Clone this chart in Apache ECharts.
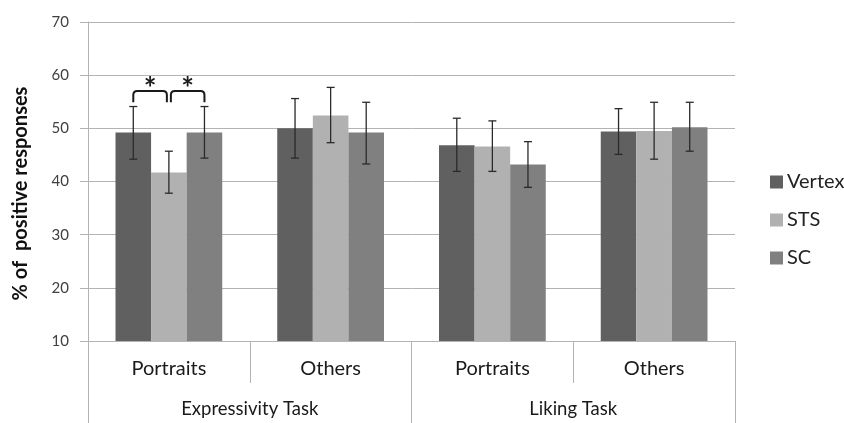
<!DOCTYPE html>
<html>
<head>
<meta charset="utf-8">
<script src="https://cdn.jsdelivr.net/npm/echarts@6/dist/echarts.min.js"></script>
<style>
  html, body { margin: 0; padding: 0; background: #fff; }
  #chart { width: 844px; height: 423px; }
</style>
</head>
<body>
<div id="chart"></div>
<script>
// data
const conditions = ["Portraits", "Others", "Portraits", "Others"];
const tasks = ["Expressivity Task", "Liking Task"];
const seriesNames = ["Vertex", "STS", "SC"];

const vertexMean = [49.2, 50.0, 46.8, 49.4];
const vertexLow = [44.2, 44.4, 41.9, 45.1];
const vertexHigh = [54.1, 55.6, 51.9, 53.7];

const stsMean = [41.7, 52.4, 46.6, 49.5];
const stsLow = [37.8, 47.3, 41.9, 44.2];
const stsHigh = [45.7, 57.7, 51.4, 54.9];

const scMean = [49.2, 49.2, 43.2, 50.2];
const scLow = [44.4, 43.3, 38.9, 45.7];
const scHigh = [54.1, 54.9, 47.5, 54.9];

// significance brackets: [category, bar a, bar b]
const sigPairs = [[0, 0, 1], [0, 1, 2]];
const bracketTop = 57.0;
const bracketFoot = 54.9;
const starLevel = 57.3;

const yTicks = [10, 20, 30, 40, 50, 60, 70];

const colors = ["#606060", "#b1b1b1", "#808080"];
const GAP = 0.34;
const FONT = "Lato";
const LINE = "#b3b3b3";

function barWidthPx(api) {
  return api.size([1, 0])[0] * (1 - GAP) / 3;
}

function errorSeries(name, idx, low, high) {
  return {
    name: name + " err",
    type: "custom",
    xAxisIndex: 0,
    z: 5,
    data: low.map((l, i) => [i, l, high[i]]),
    renderItem: function (params, api) {
      const i = api.value(0);
      const lo = api.coord([i, api.value(1)]);
      const hi = api.coord([i, api.value(2)]);
      const cx = lo[0] + (idx - 1) * barWidthPx(api);
      const cap = 4;
      const style = { stroke: "#2a2a2a", lineWidth: 1.3 };
      return {
        type: "group",
        children: [
          { type: "line", shape: { x1: cx, y1: hi[1], x2: cx, y2: lo[1] }, style },
          { type: "line", shape: { x1: cx - cap, y1: hi[1], x2: cx + cap, y2: hi[1] }, style },
          { type: "line", shape: { x1: cx - cap, y1: lo[1], x2: cx + cap, y2: lo[1] }, style },
        ],
      };
    },
  };
}

const chart = echarts.init(document.getElementById("chart"));

chart.setOption({
  backgroundColor: "#fff",
  animation: false,
  color: colors,
  grid: { left: 88, right: 109, top: 22, bottom: 82 },
  legend: {
    data: seriesNames,
    orient: "vertical",
    left: 765,
    top: 167,
    itemGap: 18,
    itemWidth: 13,
    itemHeight: 13,
    icon: "rect",
    textStyle: { fontFamily: FONT, fontSize: 20, color: "#222", padding: [0, 0, 0, -1] },
  },
  xAxis: [
    {
      type: "category",
      data: conditions,
      position: "bottom",
      axisLine: { lineStyle: { color: LINE, width: 1 } },
      axisTick: { show: true, interval: 0, length: 42, alignWithLabel: false, lineStyle: { color: LINE } },
      axisLabel: { interval: 0, margin: 18, fontFamily: FONT, fontSize: 20, color: "#1a1a1a" },
    },
    {
      type: "category",
      data: tasks,
      position: "bottom",
      axisLine: { show: false },
      axisTick: { show: true, interval: 0, length: 84, alignWithLabel: false, lineStyle: { color: LINE } },
      axisLabel: { interval: 0, margin: 59, fontFamily: FONT, fontSize: 18.5, color: "#1a1a1a" },
    },
  ],
  yAxis: {
    type: "value",
    min: yTicks[0],
    max: yTicks[yTicks.length - 1],
    interval: 10,
    name: "% of  positive responses",
    nameLocation: "middle",
    nameGap: 57,
    nameTextStyle: {
      fontFamily: FONT, fontSize: 20, fontWeight: "bold", color: "#111",
      padding: [0, 24, 0, 0],
    },
    axisLine: { show: true, lineStyle: { color: LINE } },
    axisTick: { show: true, length: 8, lineStyle: { color: LINE } },
    axisLabel: { margin: 19, fontFamily: FONT, fontSize: 15, color: "#404040" },
    splitLine: { lineStyle: { color: LINE, width: 1 } },
  },
  series: [
    { name: "Vertex", type: "bar", data: vertexMean, barGap: "0%", barCategoryGap: GAP * 100 + "%" },
    { name: "STS", type: "bar", data: stsMean, barGap: "0%", barCategoryGap: GAP * 100 + "%" },
    { name: "SC", type: "bar", data: scMean, barGap: "0%", barCategoryGap: GAP * 100 + "%" },
    errorSeries("Vertex", 0, vertexLow, vertexHigh),
    errorSeries("STS", 1, stsLow, stsHigh),
    errorSeries("SC", 2, scLow, scHigh),
    {
      name: "significance",
      type: "custom",
      z: 6,
      data: sigPairs.map(p => [p[0], p[1], p[2]]),
      renderItem: function (params, api) {
        const i = api.value(0);
        const bw = barWidthPx(api);
        const top = api.coord([i, bracketTop]);
        const foot = api.coord([i, bracketFoot]);
        const star = api.coord([i, starLevel]);
        const x1 = top[0] + (api.value(1) - 1) * bw + (api.value(1) === 1 ? 2 : 0);
        const x2 = top[0] + (api.value(2) - 1) * bw - (api.value(2) === 1 ? 2 : 0);
        const yt = top[1], yb = foot[1], r = 4;
        const d = "M" + x1 + " " + yb + " L" + x1 + " " + (yt + r) +
          " Q" + x1 + " " + yt + " " + (x1 + r) + " " + yt +
          " L" + (x2 - r) + " " + yt +
          " Q" + x2 + " " + yt + " " + x2 + " " + (yt + r) +
          " L" + x2 + " " + yb;
        return {
          type: "group",
          children: [
            { type: "path", shape: { pathData: d }, style: { fill: null, stroke: "#1a1a1a", lineWidth: 2 } },
            {
              type: "text",
              style: {
                x: (x1 + x2) / 2, y: star[1], text: "*",
                align: "center", verticalAlign: "middle",
                font: "bold 30px " + FONT, fill: "#1a1a1a",
              },
            },
          ],
        };
      },
    },
  ],
});
</script>
</body>
</html>
